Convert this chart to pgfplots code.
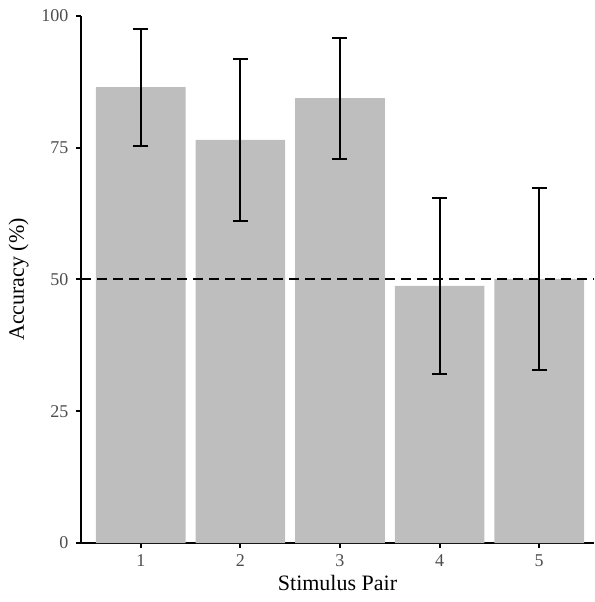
\documentclass[border=0pt]{standalone}
\usepackage{fontspec}
\setmainfont{Liberation Serif}
\usepackage{pgfplots}
\pgfplotsset{compat=1.18}
\definecolor{barfill}{HTML}{BEBEBE}
\definecolor{grey30}{HTML}{4D4D4D}
\begin{document}
\begin{tikzpicture}
\useasboundingbox (-81pt,-59pt) rectangle (513pt,543pt);
\begin{axis}[
    at={(0,0)}, anchor=south west,
    scale only axis,
    width=513pt, height=527pt,
    xmin=0.4, xmax=5.55,
    ymin=0, ymax=100,
    axis x line*=bottom,
    axis y line*=left,
    axis line style={line width=2pt, black},
    xtick={1,2,3,4,5},
    ytick={0,25,50,75,100},
    tick align=outside,
    major tick length=5pt,
    tick style={line width=2pt, black},
    /pgf/number format/assume math mode=true,
    ticklabel style={font=\fontsize{18}{18}\selectfont, text=grey30},
    xticklabel style={yshift=-3pt},
    yticklabel style={xshift=-4pt},
    xlabel={Stimulus Pair},
    ylabel={Accuracy (\%)},
    label style={font=\fontsize{22}{22}\selectfont},
    xlabel style={yshift=-2pt},
    ylabel style={yshift=6pt},
    clip=false,
]
\addplot[ybar, bar width=0.9, fill=barfill, draw=none] coordinates {
    (1,86.5) (2,76.5) (3,84.4) (4,48.8) (5,50.1)
};
\addplot[black, line width=2pt, dash pattern=on 10pt off 6pt] coordinates {
    (0.4,50) (5.55,50)
};
\addplot[draw=none, mark=none,
    error bars/.cd, y dir=both, y explicit,
    error bar style={draw=black, line width=2pt, solid},
    error mark options={draw=black, rotate=90, mark size=7.5pt, line width=2pt, solid}]
coordinates {
    (1,86.5) += (0,11.0) -= (0,11.1)
    (2,76.5) += (0,15.3) -= (0,15.4)
    (3,84.4) += (0,11.4) -= (0,11.5)
    (4,48.8) += (0,16.7) -= (0,16.7)
    (5,50.1) += (0,17.3) -= (0,17.2)
};
\end{axis}
\end{tikzpicture}
\end{document}
